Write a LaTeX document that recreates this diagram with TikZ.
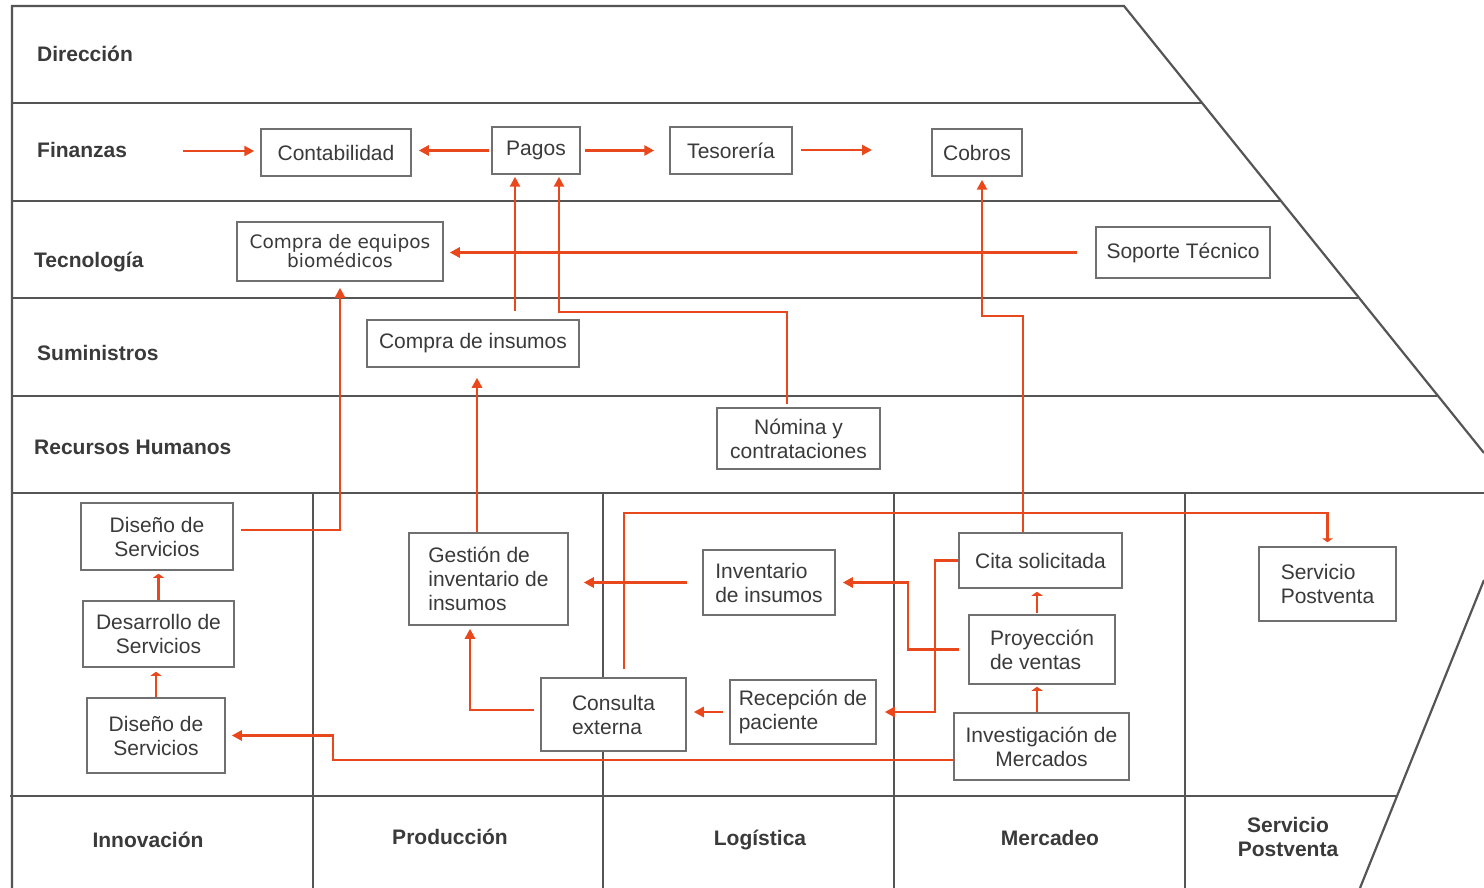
\documentclass[tikz,border=0pt]{standalone}
\usepackage{fontspec}
\setmainfont{Liberation Sans}
\newfontfamily\equipfont{DejaVu Sans}
\usetikzlibrary{arrows.meta}
\definecolor{flow}{RGB}{233,72,28}
\definecolor{rulegray}{RGB}{85,85,85}
\definecolor{edgegray}{RGB}{112,112,112}
\definecolor{ink}{RGB}{58,58,58}

\begin{document}
\begin{tikzpicture}[x=1pt,y=-1pt,
  frame/.style={draw=rulegray,line width=2.2pt},
  box/.style={draw=edgegray,fill=white,line width=1.5pt,inner sep=0pt,text=ink,
    font=\fontsize{21}{24}\selectfont,align=center},
  lbox/.style={box,align=left},
  lbl/.style={text=ink,font=\bfseries\fontsize{21}{24}\selectfont,inner sep=0pt},
  arr/.style={draw=flow,line width=2.8pt,-{Triangle[length=10pt,width=10pt]}},
  tick/.style={draw=flow,line width=2.8pt,-{Triangle[length=4pt,width=11pt]}}]

\fill[white] (0,0) rectangle (1484,888);
\useasboundingbox (0,0) rectangle (1484,888);

% outer frame and horizontal bands
\draw[frame] (12,888) -- (12,6) -- (1124,6) -- (1484,453);
\draw[frame] (12,103) -- (1202,103);
\draw[frame] (12,201) -- (1281,201);
\draw[frame] (12,298) -- (1358,298);
\draw[frame] (12,396) -- (1437,396);
\draw[frame] (12,493) -- (1484,493);
\draw[frame] (10,796) -- (1397,796);
\draw[frame] (1484,580) -- (1360,888);
% primary activity columns
\foreach \cx in {313,603,894,1185} \draw[frame] (\cx,493) -- (\cx,888);

% band labels
\node[lbl,anchor=base west] (ldir) at (37,61.5) {Dirección};
\node[lbl,anchor=base west] (lfin) at (37,157.5) {Finanzas};
\node[lbl,anchor=base west] (ltec) at (34,267) {Tecnología};
\node[lbl,anchor=base west] (lsum) at (37,360.5) {Suministros};
\node[lbl,anchor=base west] (lrh)  at (34,454.5) {Recursos Humanos};
\node[lbl,anchor=base] (linn) at (148,847.5) {Innovación};
\node[lbl,anchor=base] (lpro) at (450,844.5) {Producción};
\node[lbl,anchor=base] (llog) at (760,845.5) {Logística};
\node[lbl,anchor=base] (lmer) at (1050,845.5) {Mercadeo};
\node[lbl,align=center] (lpos) at (1288,837) {Servicio\\Postventa};

% activity boxes
\node[box,minimum width=150pt,minimum height=47pt] (conta) at (336,152.5) {Contabilidad};
\node[box,minimum width=88pt,minimum height=47pt] (pagos) at (536,150.5) {Pagos};
\node[box,minimum width=122pt,minimum height=47pt] (tes) at (731,150.5) {Tesorería};
\node[box,minimum width=90pt,minimum height=47pt] (cobros) at (977,152.5) {Cobros};
\node[box,font=\equipfont\fontsize{18.5}{19}\selectfont,minimum width=206pt,minimum height=59pt] (equip) at (340,251.5) {Compra de equipos\\biomédicos};
\node[box,minimum width=174pt,minimum height=51pt] (sop) at (1183,252.5) {Soporte Técnico};
\node[box,minimum width=212pt,minimum height=47pt] (cins) at (473,343.5) {Compra de insumos};
\node[box,minimum width=163pt,minimum height=61pt] (nom) at (798.5,438.5) {Nómina y\\contrataciones};
\node[box,minimum width=152pt,minimum height=67pt] (dis1) at (157,536.5) {Diseño de\\Servicios};
\node[box,minimum width=151pt,minimum height=66pt] (des) at (158.5,634) {Desarrollo de\\Servicios};
\node[box,minimum width=138pt,minimum height=75pt] (dis3) at (156,735.5) {Diseño de\\Servicios};
\node[lbox,minimum width=159pt,minimum height=92pt] (gest) at (488.5,579) {Gestión de\\inventario de\\insumos};
\node[lbox,minimum width=132pt,minimum height=65pt] (inv) at (769,582.5) {Inventario\\de insumos};
\node[lbox,minimum width=145pt,minimum height=73pt] (cons) at (613.5,714.5) {Consulta\\externa};
\node[lbox,minimum width=146pt,minimum height=64pt] (rec) at (803,712) {Recepción de\\paciente};
\node[box,minimum width=163pt,minimum height=55pt] (cita) at (1040.5,560.5) {Cita solicitada};
\node[lbox,minimum width=146pt,minimum height=69pt] (proy) at (1042,649.5) {Proyección\\de ventas};
\node[box,minimum width=175pt,minimum height=67pt] (inv2) at (1041.5,746.5) {Investigación de\\Mercados};
\node[lbox,minimum width=137pt,minimum height=74pt] (serv) at (1327.5,584) {Servicio\\Postventa};

% helper points for routed connectors
\coordinate (finin) at (183,151);
\coordinate (tesout) at (872,150);
\coordinate (pg1) at ([xshift=-21pt]pagos.south);
\coordinate (pg2) at ([xshift=23pt]pagos.south);
\coordinate (nomtop) at ([xshift=-11.5pt]nom.north);
\coordinate (ysup) at (0,312);
\coordinate (citatop) at ([xshift=-17.5pt]cita.north);
\coordinate (cob) at ([xshift=5pt]cobros.south);
\coordinate (ycob) at (0,316);
\coordinate (gtop) at ([xshift=-11.5pt]gest.north);
\coordinate (gbot) at ([xshift=-18.5pt]gest.south);
\coordinate (ctop) at ([xshift=10.5pt]cons.north);
\coordinate (ytop) at (0,513);
\coordinate (xa) at (908,0);
\coordinate (xb) at (935,0);
\coordinate (xc) at (333,0);
\coordinate (invl) at ([yshift=-13.5pt]inv2.west);
\coordinate (itop) at ([xshift=-4.5pt]inv2.north);
\coordinate (ptop) at ([xshift=-5pt]proy.north);

% support-activity flows
\draw[arr,shorten >=6pt] (finin) -- (finin -| conta.west);
\draw[arr,shorten <=2pt,shorten >=7pt] (pagos.west) -- (pagos.west -| conta.east);
\draw[arr,shorten <=4pt,shorten >=15pt] (pagos.east) -- (pagos.east -| tes.west);
\draw[arr,shorten <=8pt] (tes.east |- tesout) -- (tesout);
\draw[arr,shorten <=18pt,shorten >=6pt] (sop.west) -- (sop.west -| equip.east);
\draw[arr,shorten >=6pt] ([shift={(7,-6.5)}]dis1.east) -| (equip.south);
\draw[arr,shorten <=8pt,shorten >=2pt] (pg1 |- cins.north) -- (pg1);
\draw[arr,shorten <=3pt,shorten >=2pt] (nomtop) -- (nomtop |- ysup) -| (pg2);
\draw[arr,shorten >=3pt] (citatop) -- (citatop |- ycob) -| (cob);
\draw[arr,shorten >=10pt] (gtop) -- (gtop |- cins.south);

% primary-activity flows
\draw[arr,shorten <=15pt,shorten >=15pt] (inv.west) -- (inv.west -| gest.east);
\draw[arr,shorten <=6pt,shorten >=3pt] ([yshift=4.5pt]cons.west) -| (gbot);
\draw[tick,shorten <=8pt,shorten >=4pt] (ctop) -- (ctop |- ytop) -| (serv.north);
\draw[arr,shorten <=6pt,shorten >=7pt] (rec.west) -- (rec.west -| cons.east);
\draw[arr,shorten <=9pt,shorten >=7pt] (proy.west) -- (proy.west -| xa) |- (inv.east);
\draw[arr,shorten >=8pt] (cita.west) -- (cita.west -| xb) |- (rec.east);
\draw[tick,shorten >=2pt] (itop) -- (itop |- proy.south);
\draw[tick,shorten <=1pt,shorten >=3pt] (ptop) -- (ptop |- cita.south);
\draw[arr,shorten >=6pt] (invl) -- (invl -| xc) |- (dis3.east);
\draw[tick,shorten >=4pt] (dis3.north) -- (dis3.north |- des.south);
\draw[tick,shorten >=3pt] (des.north) -- (des.north |- dis1.south);
\end{tikzpicture}
\end{document}
